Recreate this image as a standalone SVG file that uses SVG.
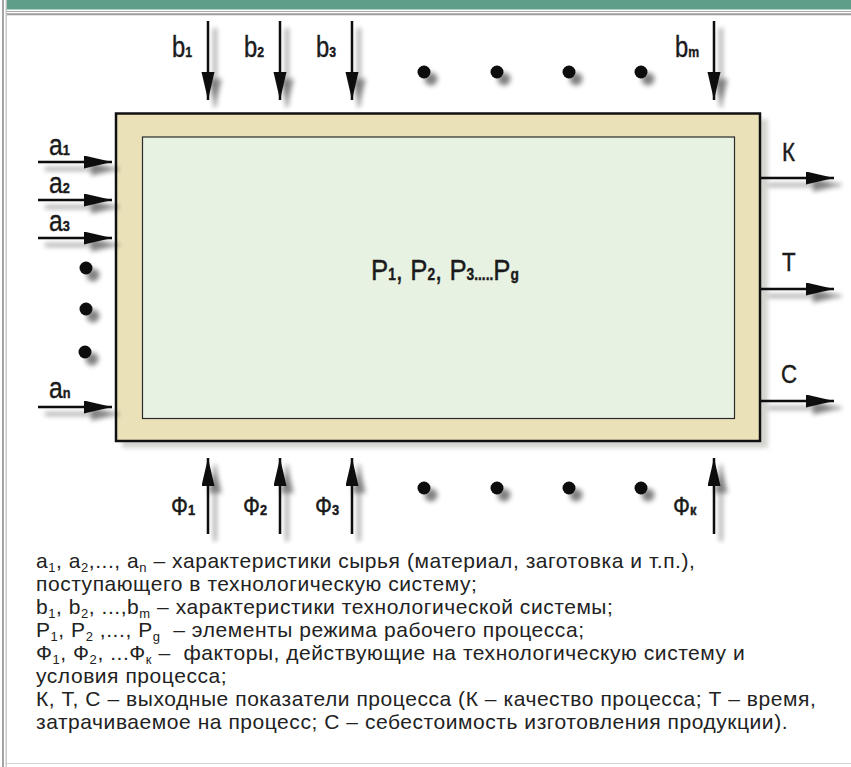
<svg xmlns="http://www.w3.org/2000/svg" width="851" height="767" viewBox="0 0 851 767">
  <style>
    .lbl { font-family: "Liberation Sans", Arial, sans-serif; fill: #1a1a1a; stroke: #1a1a1a; stroke-width: 0.4; }
    .big { font-size: 29px; }
    .mid { font-size: 26px; }
    .sub { font-size: 15px; font-weight: bold; }
    .legend { font-family: "Liberation Sans", Arial, sans-serif; font-size: 21px; letter-spacing: 0.55px; fill: #222; }
    .ls { font-size: 13px; }
    .conn { stroke: #111; stroke-width: 2.5; fill: none; marker-end: url(#head); }
    .dot { fill: #111; }
  </style>
  <defs>
    <marker id="head" markerUnits="userSpaceOnUse" markerWidth="30" markerHeight="14" refX="28" refY="6.5" orient="auto">
      <path d="M0,0 L28,6.5 L0,13 z" fill="#111"/>
    </marker>
    <filter id="shade" filterUnits="userSpaceOnUse" x="0" y="0" width="851" height="767">
      <feGaussianBlur in="SourceAlpha" stdDeviation="2.5"/>
      <feOffset dx="7" dy="7" result="o"/>
      <feComponentTransfer><feFuncA type="linear" slope="0.5"/></feComponentTransfer>
      <feMerge><feMergeNode/><feMergeNode in="SourceGraphic"/></feMerge>
    </filter>
    <filter id="soft" filterUnits="userSpaceOnUse" x="0" y="0" width="851" height="767">
      <feGaussianBlur stdDeviation="2"/>
    </filter>
  </defs>

  <rect width="851" height="767" fill="#ffffff"/>

  <!-- page frame -->
  <g id="frame">
    <rect x="6" y="0" width="845" height="9.5" fill="#5f9e88"/>
    <line x1="6" y1="11.5" x2="851" y2="11.5" stroke="#a8a8a8" stroke-width="1"/>
    <line x1="6" y1="14.3" x2="851" y2="14.3" stroke="#9c9c9c" stroke-width="2"/>
    <line x1="3" y1="0" x2="3" y2="767" stroke="#a4a4a4" stroke-width="2"/>
    <line x1="6.2" y1="0" x2="6.2" y2="767" stroke="#c4c4c4" stroke-width="1.4"/>
    <line x1="7" y1="763.5" x2="851" y2="763.5" stroke="#d6d6d6" stroke-width="1.2"/>
  </g>

  <!-- process block -->
  <g id="system">
    <rect x="122" y="119" width="646" height="329" fill="#b8b8b0" opacity="0.6" filter="url(#soft)"/>
    <rect x="116" y="113.5" width="644" height="327.5" fill="#ebe1b9" stroke="#111" stroke-width="2.5"/>
    <rect x="142.5" y="137" width="592" height="281.5" fill="#e8f2e3" stroke="#2a2a2a" stroke-width="1.2"/>
    <text class="lbl" transform="translate(371 280) scale(0.86 1)" font-size="30">P<tspan font-size="16" font-weight="bold">1</tspan>, P<tspan font-size="16" font-weight="bold">2</tspan>, P<tspan font-size="16" font-weight="bold">3.....</tspan>P<tspan font-size="16" font-weight="bold">g</tspan></text>
  </g>

  <!-- inputs, outputs and disturbances -->
  <g id="connectors" filter="url(#shade)">
    <line class="conn" x1="208" y1="21" x2="208" y2="100"/>
    <line class="conn" x1="280" y1="21" x2="280" y2="100"/>
    <line class="conn" x1="352" y1="21" x2="352" y2="100"/>
    <line class="conn" x1="714" y1="21" x2="714" y2="100"/>

    <line class="conn" x1="208" y1="534" x2="208" y2="458"/>
    <line class="conn" x1="280" y1="534" x2="280" y2="458"/>
    <line class="conn" x1="352" y1="534" x2="352" y2="458"/>
    <line class="conn" x1="714" y1="534" x2="714" y2="458"/>

    <line class="conn" x1="38" y1="162" x2="112" y2="162"/>
    <line class="conn" x1="38" y1="200" x2="112" y2="200"/>
    <line class="conn" x1="38" y1="238" x2="112" y2="238"/>
    <line class="conn" x1="38" y1="407" x2="112" y2="407"/>

    <line class="conn" x1="761" y1="178" x2="834" y2="178"/>
    <line class="conn" x1="761" y1="289" x2="834" y2="289"/>
    <line class="conn" x1="761" y1="401" x2="834" y2="401"/>

    <circle class="dot" cx="424" cy="72" r="6.5"/>
    <circle class="dot" cx="497" cy="72" r="6.5"/>
    <circle class="dot" cx="569" cy="72" r="6.5"/>
    <circle class="dot" cx="641" cy="72" r="6.5"/>
    <circle class="dot" cx="424" cy="488" r="6.5"/>
    <circle class="dot" cx="497" cy="488" r="6.5"/>
    <circle class="dot" cx="569" cy="488" r="6.5"/>
    <circle class="dot" cx="641" cy="488" r="6.5"/>
    <circle class="dot" cx="86" cy="268" r="6.5"/>
    <circle class="dot" cx="86" cy="309" r="6.5"/>
    <circle class="dot" cx="85" cy="352" r="6.5"/>
  </g>

  <!-- labels of the arrows -->
  <g id="labels-b">
    <text class="lbl big" transform="translate(172 57) scale(0.82 1)">b<tspan class="sub">1</tspan></text>
    <text class="lbl big" transform="translate(244 57) scale(0.82 1)">b<tspan class="sub">2</tspan></text>
    <text class="lbl big" transform="translate(316 57) scale(0.82 1)">b<tspan class="sub">3</tspan></text>
    <text class="lbl big" transform="translate(675 57) scale(0.82 1)">b<tspan class="sub">m</tspan></text>
  </g>
  <g id="labels-a">
    <text class="lbl big" transform="translate(49 155) scale(0.85 1)">a<tspan class="sub">1</tspan></text>
    <text class="lbl big" transform="translate(49 193) scale(0.85 1)">a<tspan class="sub">2</tspan></text>
    <text class="lbl big" transform="translate(49 231) scale(0.85 1)">a<tspan class="sub">3</tspan></text>
    <text class="lbl big" transform="translate(49 398) scale(0.85 1)">a<tspan class="sub">n</tspan></text>
  </g>
  <g id="labels-out">
    <text class="lbl mid" transform="translate(782 161) scale(0.86 1)">К</text>
    <text class="lbl mid" transform="translate(782 271) scale(0.86 1)">Т</text>
    <text class="lbl mid" transform="translate(781 383) scale(0.86 1)">С</text>
  </g>
  <g id="labels-f">
    <text class="lbl mid" transform="translate(171 515) scale(0.86 1)">Ф<tspan class="sub">1</tspan></text>
    <text class="lbl mid" transform="translate(243 515) scale(0.86 1)">Ф<tspan class="sub">2</tspan></text>
    <text class="lbl mid" transform="translate(315 515) scale(0.86 1)">Ф<tspan class="sub">3</tspan></text>
    <text class="lbl mid" transform="translate(673 515) scale(0.86 1)">Ф<tspan class="sub">к</tspan></text>
  </g>

  <!-- legend -->
  <g id="legend" class="legend">
    <text x="36" y="568">a<tspan class="ls" dy="4">1</tspan><tspan dy="-4">, a</tspan><tspan class="ls" dy="4">2</tspan><tspan dy="-4">,..., a</tspan><tspan class="ls" dy="4">n</tspan><tspan dy="-4"> – характеристики сырья (материал, заготовка и т.п.),</tspan></text>
    <text x="36" y="591">поступающего в технологическую систему;</text>
    <text x="36" y="614">b<tspan class="ls" dy="4">1</tspan><tspan dy="-4">, b</tspan><tspan class="ls" dy="4">2</tspan><tspan dy="-4">, ...,b</tspan><tspan class="ls" dy="4">m</tspan><tspan dy="-4"> – характеристики технологической системы;</tspan></text>
    <text x="36" y="637">P<tspan class="ls" dy="4">1</tspan><tspan dy="-4">, P</tspan><tspan class="ls" dy="4">2</tspan><tspan dy="-4"> ,..., P</tspan><tspan class="ls" dy="4">g</tspan><tspan dy="-4">&#160; – элементы режима рабочего процесса;</tspan></text>
    <text x="36" y="660">Ф<tspan class="ls" dy="4">1</tspan><tspan dy="-4">, Ф</tspan><tspan class="ls" dy="4">2</tspan><tspan dy="-4">, ...Ф</tspan><tspan class="ls" dy="4">к</tspan><tspan dy="-4"> – &#160;факторы, действующие на технологическую систему и</tspan></text>
    <text x="36" y="683">условия процесса;</text>
    <text x="36" y="706">К, Т, С – выходные показатели процесса (К – качество процесса; Т – время,</text>
    <text x="36" y="729">затрачиваемое на процесс; С – себестоимость изготовления продукции).</text>
  </g>
</svg>
